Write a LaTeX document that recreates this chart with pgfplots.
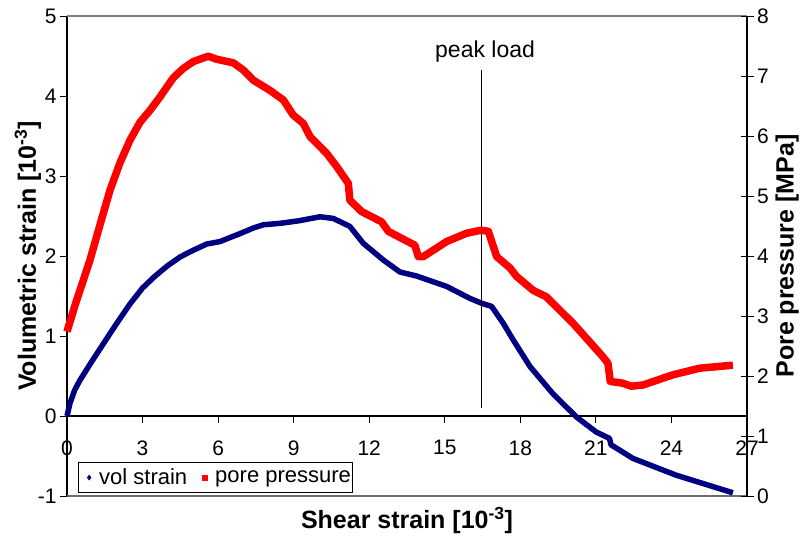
\documentclass[border=0pt]{standalone}
\usepackage{pgfplots}
\pgfplotsset{compat=1.18}
\usepackage{pgfplotstable}
\usepackage{fontspec}
\setmainfont{Liberation Sans}
\definecolor{volblue}{RGB}{0,0,128}
\definecolor{porered}{RGB}{255,0,0}

% volumetric strain [1e-3] against shear strain [1e-3]
\pgfplotstableread{
x y
0 0
0.12 0.16
0.3 0.32
0.5 0.44
1.0 0.69
1.5 0.93
2.0 1.17
2.5 1.40
3.0 1.60
3.5 1.75
4.0 1.88
4.5 1.99
5.0 2.07
5.55 2.15
6.07 2.18
6.87 2.28
7.4 2.35
7.79 2.39
8.5 2.41
9.2 2.44
10.04 2.49
10.57 2.47
11.23 2.37
11.76 2.16
12.56 1.95
13.22 1.80
13.88 1.75
15.07 1.62
16.0 1.47
16.46 1.41
16.86 1.37
17.32 1.16
17.72 0.95
18.38 0.62
19.29 0.28
20.22 -0.01
21.01 -0.20
21.54 -0.28
21.6 -0.36
22.47 -0.53
24.19 -0.74
26.44 -0.96
}\volstrain

% pore pressure [MPa] against shear strain [1e-3]
\pgfplotstableread{
x p
0 2.74
0.32 3.18
0.91 3.93
1.31 4.52
1.71 5.10
2.1 5.55
2.5 5.93
2.9 6.23
3.3 6.43
3.69 6.65
4.22 6.97
4.6 7.12
5.01 7.24
5.61 7.33
5.94 7.28
6.6 7.22
7.0 7.1
7.4 6.93
8.06 6.76
8.59 6.6
8.98 6.35
9.38 6.21
9.65 5.99
10.31 5.71
10.71 5.49
11.17 5.21
11.23 4.93
11.7 4.74
12.49 4.57
12.76 4.41
13.81 4.18
13.95 3.99
14.15 3.99
15.07 4.24
15.87 4.38
16.46 4.43
16.73 4.41
17.06 3.99
17.59 3.80
17.85 3.66
18.5 3.43
19.03 3.32
20.09 2.88
21.28 2.32
21.48 2.21
21.57 1.91
22.07 1.88
22.4 1.83
22.87 1.85
24.06 2.02
25.12 2.13
26.44 2.18
}\porepressure

\begin{document}
\begin{tikzpicture}[x=1pt,y=1pt]
\useasboundingbox (0,0) rectangle (803,536);

% left axis: volumetric strain
\begin{axis}[
  at={(67pt,40pt)}, anchor=south west,
  width=680pt, height=480pt, scale only axis,
  xmin=0, xmax=27, ymin=-1, ymax=5,
  axis x line=middle, axis y line=left,
  hide obscured x ticks=false,
  axis line style={-, black, line width=1.1pt},
  xtick={0,3,...,27}, ytick={-1,0,...,5},
  tick align=outside, major tick length=7pt,
  tick style={black, line width=1pt},
  ticklabel style={font=\fontsize{21}{24}\selectfont},
  /pgf/number format/assume math mode=true,
  xticklabel style={yshift=-14pt},
  every axis x label/.style={at={(axis description cs:0.5,-0.052)}, anchor=center,
    font=\bfseries\fontsize{25}{28}\selectfont},
  every axis y label/.style={at={(axis description cs:-0.0574,0.5)}, rotate=90, anchor=center,
    font=\bfseries\fontsize{25}{28}\selectfont},
  xlabel={Shear strain [10\textsuperscript{-3}]},
  ylabel={Volumetric strain [10\textsuperscript{-3}]},
  clip=false,
]
\draw[gray, line width=1.5pt] (rel axis cs:0,1) -- (rel axis cs:1,1);
\draw[gray!85!black, line width=2pt] (rel axis cs:0,0) -- (rel axis cs:1,0);
\addplot[volblue, line width=5.5pt, line join=round] table[x=x, y=y] {\volstrain};
\addplot[black, line width=0.8pt] coordinates {(16.45,4.325) (16.45,0.1)};
\node[font=\fontsize{23}{26}\selectfont] at (axis cs:16.6,4.56) {peak load};
\end{axis}

% right axis: pore pressure
\begin{axis}[
  at={(67pt,40pt)}, anchor=south west,
  width=680pt, height=480pt, scale only axis,
  xmin=0, xmax=27, ymin=0, ymax=8,
  axis x line=none, axis y line*=right,
  axis line style={-, black, line width=1.1pt},
  ytick={0,...,8},
  tick align=center, major tick length=13pt,
  tick style={black, line width=1pt},
  ticklabel style={font=\fontsize{21}{24}\selectfont},
  /pgf/number format/assume math mode=true,
  every axis y label/.style={at={(axis description cs:1.059,0.5)}, rotate=90, anchor=center,
    font=\bfseries\fontsize{25}{28}\selectfont},
  ylabel={Pore pressure [MPa]},
  clip=false,
  legend columns=2,
  legend cell align=left,
  legend image code/.code={
    \path[draw=none, fill=none] (-11pt,0) -- (8pt,0);
    \draw[#1, line width=0.5pt] plot coordinates {(0pt,0pt)};
  },
  legend style={at={(axis description cs:0.0157,0.0056)}, anchor=south west,
    draw=black, line width=1pt, fill=white,
    font=\fontsize{22}{25}\selectfont,
    inner xsep=0pt, inner ysep=4.5pt,
    /tikz/every even column/.append style={column sep=5pt}},
]
\addplot[porered, line width=7.5pt, line join=round, forget plot] table[x=x, y=p] {\porepressure};
\addlegendimage{only marks, mark=diamond*, mark size=2.5pt, volblue}
\addlegendentry{vol strain}
\addlegendimage{only marks, mark=square*, mark size=2.5pt, porered}
\addlegendentry{pore pressure}
\end{axis}
\end{tikzpicture}
\end{document}
